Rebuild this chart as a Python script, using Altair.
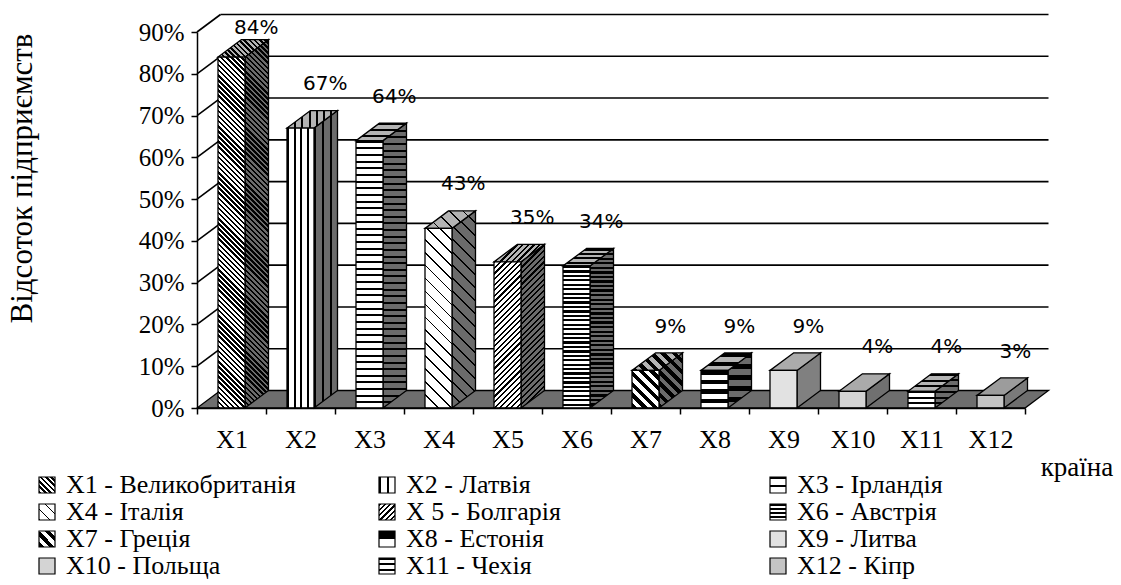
import math
import altair as alt
import pandas as pd

# ---------------- data ----------------
categories = ["X1", "X2", "X3", "X4", "X5", "X6", "X7", "X8", "X9", "X10", "X11", "X12"]
values = [84, 67, 64, 43, 35, 34, 9, 9, 9, 4, 4, 3]
value_labels = ["84%", "67%", "64%", "43%", "35%", "34%", "9%", "9%", "9%", "4%", "4%", "3%"]
legend_labels = [
    "X1 - Великобританія", "X2 - Латвія", "X3 - Ірландія",
    "X4 - Італія", "X 5 - Болгарія", "X6 - Австрія",
    "X7 - Греція", "X8 - Естонія", "X9 - Литва",
    "X10 - Польща", "X11 - Чехія", "X12 - Кіпр",
]
y_ticks = [0, 10, 20, 30, 40, 50, 60, 70, 80, 90]
y_title = "Відсоток підприємств"
x_title = "країна"

# ---------------- layout (pixels) ----------------
W, H = 828, 376
LEFT, TOP, RIGHT, BOTTOM = 197, 32, 96, 177
N = len(categories)
YMAX = 90
PXX = W / N
PXY = H / YMAX
FRONT_PX = 27.0
DX_PX, DY_PX = 23.5, 17.5
BW = FRONT_PX / PXX
DX = DX_PX / PXX
DY = DY_PX / PXY

SIDE_GRAY = "#6b6b6b"
TOP_GRAY = "#b4b4b4"
FLOOR_GRAY = "#6e6e6e"
SERIF = "Liberation Serif, DejaVu Serif, serif"

def px_to_x(px):
    return (px - LEFT) / PXX

def px_to_y(py):
    return (TOP + H - py) / PXY

# fill patterns (styles), one per category
patterns = [
    {"kind": "diag_down", "period": 3.6, "frac": 0.5},
    {"kind": "vert", "period": 7.0, "frac": 0.28},
    {"kind": "horiz", "period": 6.7, "frac": 0.3},
    {"kind": "diag_down", "period": 9.0, "frac": 0.12},
    {"kind": "diag_up", "period": 4.0, "frac": 0.38},
    {"kind": "horiz", "period": 4.5, "frac": 0.5},
    {"kind": "diag_down", "period": 7.5, "frac": 0.5},
    {"kind": "horiz", "period": 10.7, "frac": 0.5},
    {"kind": "solid", "front": "#e2e2e2", "side": "#808080", "top": "#ababab"},
    {"kind": "solid", "front": "#d4d4d4", "side": "#707070", "top": "#aaaaaa"},
    {"kind": "horiz", "period": 6.0, "frac": 0.35},
    {"kind": "solid", "front": "#c4c4c4", "side": "#7a7a7a", "top": "#9c9c9c"},
]


def make_fill(pat, w, h, face):
    if pat["kind"] == "solid":
        return pat[face]
    base = {"front": "white", "side": SIDE_GRAY, "top": TOP_GRAY}[face]
    ink = "black"
    P, frac = pat["period"], pat["frac"]
    kind = pat["kind"]
    if kind == "horiz":
        L, p1, p2 = h, (0, 0), (0, 1)
    elif kind == "vert":
        L, p1, p2 = w, (0, 0), (1, 0)
    elif kind == "diag_down":
        lam = (w + h) / (w * w + h * h)
        L, p1, p2 = (w + h) / math.sqrt(2), (0, 1), (lam * w, 1 - lam * h)
    else:
        lam = (w + h) / (w * w + h * h)
        L, p1, p2 = (w + h) / math.sqrt(2), (0, 0), (lam * w, lam * h)
    n = max(1, int(round(L / P)))
    stops = []
    for i in range(n):
        a = round(i / n, 6)
        b = round((i + frac) / n, 6)
        c = round(min(1.0, (i + 1) / n), 6)
        stops += [(a, ink), (b, ink), (b, base), (c, base)]
    return {
        "gradient": "linear",
        "x1": p1[0], "y1": p1[1], "x2": p2[0], "y2": p2[1],
        "stops": [{"offset": o, "color": col} for o, col in stops],
    }


# ---------------- scales / axes ----------------
xscale = alt.Scale(domain=[0, N], nice=False, zero=False)
yscale = alt.Scale(domain=[0, YMAX], nice=False, zero=False)
xaxis = alt.Axis(
    values=list(range(N + 1)),
    labelExpr=f"datum.value < {N} ? 'X' + (datum.value + 1) : ''",
    labelOffset=PXX / 2, labelOverlap=False, labelFlush=False, labelBound=False,
    tickSize=6, tickColor="black", tickWidth=1.5,
    domainColor="black", domainWidth=1.5,
    labelFont=SERIF, labelFontSize=26, labelColor="black", labelPadding=12,
    grid=False, title=None, zindex=1,
)
yaxis = alt.Axis(
    values=y_ticks, labelExpr="datum.value + '%'",
    labelOverlap=False, labelFlush=False, labelBound=False,
    tickSize=6, tickColor="black", tickWidth=1.5,
    domainColor="black", domainWidth=1.5,
    labelFont=SERIF, labelFontSize=25, labelColor="black", labelPadding=7,
    grid=False, title=y_title, titleFont=SERIF, titleFontSize=31,
    titleFontWeight="normal", titleColor="black", titleAngle=270,
    titleAlign="center", titleBaseline="middle", titleX=22 - LEFT, titleY=178 - TOP,
    zindex=1,
)


def X(f):
    return alt.X(f"{f}:Q", scale=xscale, axis=xaxis)


def Y(f):
    return alt.Y(f"{f}:Q", scale=yscale, axis=yaxis, stack=None)


layers = []

# back wall gridlines
back_df = pd.DataFrame({"x": [DX] * (len(y_ticks) - 1), "x2": [N + DX] * (len(y_ticks) - 1),
                        "y": [v + DY for v in y_ticks[1:]]})
layers.append(alt.Chart(back_df).mark_rule(color="black", strokeWidth=1.6, opacity=1)
              .encode(x=X("x"), x2="x2", y=Y("y")))
# left wall diagonals
left_df = pd.DataFrame({"x": [0] * (len(y_ticks) - 1), "x2": [DX] * (len(y_ticks) - 1),
                        "y": y_ticks[1:], "y2": [v + DY for v in y_ticks[1:]]})
layers.append(alt.Chart(left_df).mark_rule(color="black", strokeWidth=1.6, opacity=1)
              .encode(x=X("x"), x2="x2", y=Y("y"), y2="y2"))
# floor
floor_df = pd.DataFrame({"y": [0, DY], "x": [0, DX], "x2": [N, N + DX]})
layers.append(alt.Chart(floor_df).mark_area(orient="horizontal", fill=FLOOR_GRAY, stroke="black",
                                            strokeWidth=1.3, opacity=1)
              .encode(y=Y("y"), x=X("x"), x2="x2"))

# bars
for i, (v, pat) in enumerate(zip(values, patterns)):
    cx = i + 0.5
    xl, xr = cx - BW / 2, cx + BW / 2
    h_front = v * PXY
    side_df = pd.DataFrame({"x": [xr, xr + DX], "y": [0, DY], "y2": [v, v + DY]})
    layers.append(alt.Chart(side_df).mark_area(
        orient="vertical", fill=make_fill(pat, DX_PX, h_front + DY_PX, "side"),
        stroke="black", strokeWidth=1.3, opacity=1)
        .encode(x=X("x"), y=Y("y"), y2="y2"))
    top_df = pd.DataFrame({"y": [v, v + DY], "x": [xl, xl + DX], "x2": [xr, xr + DX]})
    layers.append(alt.Chart(top_df).mark_area(
        orient="horizontal", fill=make_fill(pat, FRONT_PX + DX_PX, DY_PX, "top"),
        stroke="black", strokeWidth=1.3, opacity=1)
        .encode(y=Y("y"), x=X("x"), x2="x2"))
    front_df = pd.DataFrame({"x": [xl], "x2": [xr], "y": [0], "y2": [v]})
    layers.append(alt.Chart(front_df).mark_rect(
        fill=make_fill(pat, FRONT_PX, h_front, "front"),
        stroke="black", strokeWidth=1.3, opacity=1)
        .encode(x=X("x"), x2="x2", y=Y("y"), y2="y2"))

# value labels
lab_df = pd.DataFrame({
    "x": [i + 0.5 + 0.36 for i in range(N)],
    "y": [min(v + 10.5, 91) for v in values],
    "t": value_labels,
})
layers.append(alt.Chart(lab_df).mark_text(font="DejaVu Sans", fontSize=20, color="black",
                                          align="center", baseline="middle")
              .encode(x=X("x"), y=Y("y"), text="t:N"))

# legend
SW = 16
col_left = [39, 379, 770]
row_mid = [485, 512, 539, 566]
leg_rows = []
for k, (lab, pat) in enumerate(zip(legend_labels, patterns)):
    r, c = divmod(k, 3)
    x0 = col_left[c]
    ym = row_mid[r]
    sdf = pd.DataFrame({"x": [px_to_x(x0)], "x2": [px_to_x(x0 + SW)],
                        "y": [px_to_y(ym + SW / 2)], "y2": [px_to_y(ym - SW / 2)]})
    layers.append(alt.Chart(sdf).mark_rect(fill=make_fill(pat, SW, SW, "front"),
                                           stroke="black", strokeWidth=1.2, opacity=1)
                  .encode(x=X("x"), x2="x2", y=Y("y"), y2="y2"))
    leg_rows.append({"x": px_to_x(x0 + SW + 11), "y": px_to_y(ym), "t": lab})
leg_df = pd.DataFrame(leg_rows)
layers.append(alt.Chart(leg_df).mark_text(font=SERIF, fontSize=26, color="black",
                                          align="left", baseline="middle")
              .encode(x=X("x"), y=Y("y"), text="t:N"))

# x title
xt_df = pd.DataFrame({"x": [px_to_x(1077)], "y": [px_to_y(468)], "t": [x_title]})
layers.append(alt.Chart(xt_df).mark_text(font=SERIF, fontSize=27, color="black",
                                         align="center", baseline="middle")
              .encode(x=X("x"), y=Y("y"), text="t:N"))

chart = alt.layer(*layers).properties(
    width=W, height=H,
    padding={"left": LEFT, "top": TOP, "right": RIGHT, "bottom": BOTTOM},
    autosize=alt.AutoSizeParams(type="none"),
    background="white",
).configure_view(strokeWidth=0)

chart.save("out.html", embed_options={"renderer": "svg", "actions": False})
